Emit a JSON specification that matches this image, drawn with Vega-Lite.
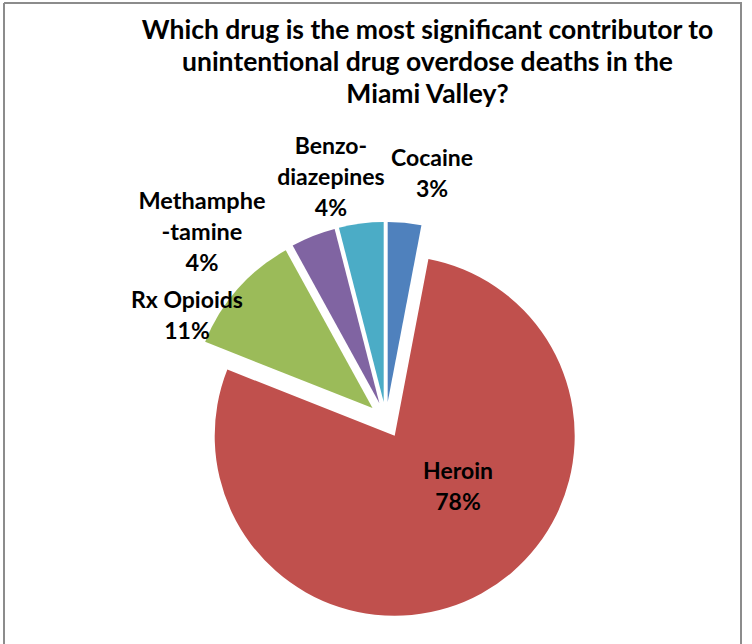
{
  "$schema": "https://vega.github.io/schema/vega-lite/v6.json",
  "width": 737,
  "height": 641,
  "autosize": {"type": "none"},
  "padding": {"left": 4, "top": 3, "right": 11, "bottom": 0},
  "background": "white",
  "view": {"stroke": "#8c8c8c", "strokeWidth": 2, "strokeDash": [1378, 737, 641, 0]},
  "title": {
    "text": ["Which drug is the most significant contributor to", "unintentional drug overdose deaths in the", "Miami Valley?"],
    "anchor": "middle",
    "dx": 55,
    "offset": -105,
    "font": "Lato",
    "fontSize": 26.5,
    "fontWeight": "bold",
    "lineHeight": 32,
    "color": "black"
  },
  "data": {
    "values": [
      {"drug": "Cocaine", "pct": 3, "label": "Cocaine\n3%"},
      {"drug": "Heroin", "pct": 78, "label": "Heroin\n78%"},
      {"drug": "Rx Opioids", "pct": 11, "label": "Rx Opioids\n11%"},
      {"drug": "Methamphetamine", "pct": 4, "label": "Methamphe\n-tamine\n4%"},
      {"drug": "Benzodiazepines", "pct": 4, "label": "Benzo-\ndiazepines\n4%"}
    ]
  },
  "transform": [
    {"window": [{"op": "row_number", "as": "idx"}]},
    {"stack": "pct", "groupby": [], "sort": [{"field": "idx", "order": "ascending"}], "as": ["v0", "v1"]}
  ],
  "layer": [
    {
      "transform": [{"filter": "datum.drug === 'Cocaine'"}],
      "mark": {"type": "arc", "outerRadius": 180, "xOffset": 15.2, "yOffset": 78.6},
      "encoding": {
        "theta": {"field": "v0", "type": "quantitative", "stack": null, "scale": {"domain": [0, 100]}},
        "theta2": {"field": "v1"},
        "color": {"field": "drug", "type": "nominal", "legend": null,
          "scale": {"domain": ["Cocaine", "Heroin", "Rx Opioids", "Methamphetamine", "Benzodiazepines"], "range": ["#4F81BD", "#C0504D", "#9BBB59", "#8064A2", "#4BACC6"]}}
      }
    },
    {
      "transform": [{"filter": "datum.drug === 'Heroin'"}],
      "mark": {"type": "arc", "outerRadius": 180, "xOffset": 22.2, "yOffset": 112.3},
      "encoding": {
        "theta": {"field": "v0", "type": "quantitative", "stack": null, "scale": {"domain": [0, 100]}},
        "theta2": {"field": "v1"},
        "color": {"field": "drug", "type": "nominal", "legend": null}
      }
    },
    {
      "transform": [{"filter": "datum.drug === 'Rx Opioids'"}],
      "mark": {"type": "arc", "outerRadius": 180, "xOffset": 0, "yOffset": 84.6},
      "encoding": {
        "theta": {"field": "v0", "type": "quantitative", "stack": null, "scale": {"domain": [0, 100]}},
        "theta2": {"field": "v1"},
        "color": {"field": "drug", "type": "nominal", "legend": null}
      }
    },
    {
      "transform": [{"filter": "datum.drug === 'Methamphetamine'"}],
      "mark": {"type": "arc", "outerRadius": 180, "xOffset": 6.9, "yOffset": 79.8},
      "encoding": {
        "theta": {"field": "v0", "type": "quantitative", "stack": null, "scale": {"domain": [0, 100]}},
        "theta2": {"field": "v1"},
        "color": {"field": "drug", "type": "nominal", "legend": null}
      }
    },
    {
      "transform": [{"filter": "datum.drug === 'Benzodiazepines'"}],
      "mark": {"type": "arc", "outerRadius": 180, "xOffset": 11.2, "yOffset": 78.6},
      "encoding": {
        "theta": {"field": "v0", "type": "quantitative", "stack": null, "scale": {"domain": [0, 100]}},
        "theta2": {"field": "v1"},
        "color": {"field": "drug", "type": "nominal", "legend": null}
      }
    },
    {
      "mark": {"type": "text", "radius": 252, "xOffset": 35.8, "yOffset": 86.5, "font": "Lato", "fontSize": 23, "fontWeight": "bold", "lineBreak": "\n", "lineHeight": 31, "baseline": "middle", "align": "center", "color": "black"},
      "encoding": {
        "theta": {"field": "pct", "type": "quantitative", "stack": true, "scale": {"domain": [0, 100]}},
        "order": {"field": "idx"},
        "detail": {"field": "drug"},
        "text": {"condition": {"test": "datum.drug === 'Cocaine'", "field": "label"}, "value": ""}
      }
    },
    {
      "mark": {"type": "text", "radius": 93.5, "xOffset": 40.5, "yOffset": 66.5, "font": "Lato", "fontSize": 23, "fontWeight": "bold", "lineBreak": "\n", "lineHeight": 31, "baseline": "middle", "align": "center", "color": "black"},
      "encoding": {
        "theta": {"field": "pct", "type": "quantitative", "stack": true, "scale": {"domain": [0, 100]}},
        "order": {"field": "idx"},
        "detail": {"field": "drug"},
        "text": {"condition": {"test": "datum.drug === 'Heroin'", "field": "label"}, "value": ""}
      }
    },
    {
      "mark": {"type": "text", "radius": 218, "xOffset": -22, "yOffset": 121.5, "font": "Lato", "fontSize": 23, "fontWeight": "bold", "lineBreak": "\n", "lineHeight": 31, "baseline": "middle", "align": "center", "color": "black"},
      "encoding": {
        "theta": {"field": "pct", "type": "quantitative", "stack": true, "scale": {"domain": [0, 100]}},
        "order": {"field": "idx"},
        "detail": {"field": "drug"},
        "text": {"condition": {"test": "datum.drug === 'Rx Opioids'", "field": "label"}, "value": ""}
      }
    },
    {
      "mark": {"type": "text", "radius": 262, "xOffset": -74.1, "yOffset": 122.2, "font": "Lato", "fontSize": 23.5, "fontWeight": "bold", "lineBreak": "\n", "lineHeight": 31, "baseline": "middle", "align": "center", "color": "black"},
      "encoding": {
        "theta": {"field": "pct", "type": "quantitative", "stack": true, "scale": {"domain": [0, 100]}},
        "order": {"field": "idx"},
        "detail": {"field": "drug"},
        "text": {"condition": {"test": "datum.drug === 'Methamphetamine'", "field": "label"}, "value": ""}
      }
    },
    {
      "mark": {"type": "text", "radius": 248, "xOffset": -10.5, "yOffset": 69.5, "font": "Lato", "fontSize": 23, "fontWeight": "bold", "lineBreak": "\n", "lineHeight": 31, "baseline": "middle", "align": "center", "color": "black"},
      "encoding": {
        "theta": {"field": "pct", "type": "quantitative", "stack": true, "scale": {"domain": [0, 100]}},
        "order": {"field": "idx"},
        "detail": {"field": "drug"},
        "text": {"condition": {"test": "datum.drug === 'Benzodiazepines'", "field": "label"}, "value": ""}
      }
    }
  ]
}
